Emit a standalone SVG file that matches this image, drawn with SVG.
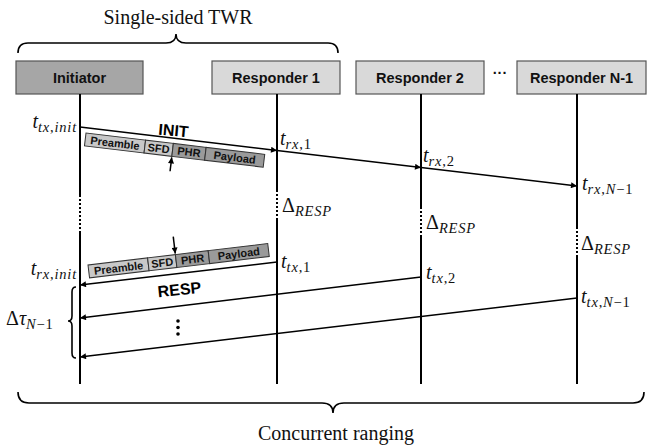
<svg xmlns="http://www.w3.org/2000/svg" width="651" height="445" viewBox="0 0 651 445">
<style>
.box{stroke:#555;stroke-width:1.2}
.init{fill:#a6a6a6}
.resp{fill:#d9d9d9}
.nlab{font-family:"Liberation Sans",Arial,sans-serif;font-weight:bold;font-size:14.5px;fill:#111;text-anchor:middle}
.life{stroke:#000;stroke-width:2;fill:none}
.dot{stroke:#000;stroke-width:2;stroke-dasharray:2,2;fill:none}
.msg{stroke:#000;stroke-width:1.5;fill:none}
.brace{stroke:#000;stroke-width:1.6;fill:none}
.m{font-family:"Liberation Serif","Times New Roman",serif;font-style:italic;font-size:20px;fill:#111}
.s{font-size:14.5px;letter-spacing:0.8px}
.up{font-style:normal}
.cap{font-family:"Liberation Serif","Times New Roman",serif;font-size:20px;fill:#111;text-anchor:middle}
.pk{font-family:"Liberation Sans",Arial,sans-serif;font-weight:bold;font-size:11px;fill:#111;text-anchor:middle}
.lt{fill:#c8c8c8;stroke:#333;stroke-width:1}
.dk{fill:#9a9a9a;stroke:#333;stroke-width:1}
.big{font-family:"Liberation Sans",Arial,sans-serif;font-weight:bold;font-size:16px;fill:#000;text-anchor:middle}
</style>
<defs>
<marker id="ah" viewBox="0 0 10 10" refX="10" refY="5" markerWidth="8" markerHeight="6" markerUnits="userSpaceOnUse" orient="auto">
<path d="M0,0 L10,5 L0,10 z" fill="#000"/>
</marker>
</defs>

<text class="cap" x="178" y="24">Single-sided TWR</text>
<path class="brace" d="M18,53 Q18,43 28,43 L166,43 Q176,43 176,34 Q176,43 186,43 L328,43 Q338,43 338,53"/>

<g id="initiator">
<rect class="box init" x="16" y="61" width="127" height="33"/>
<text class="nlab" x="79.5" y="83">Initiator</text>
<path class="life" d="M80,94 V195 M80,232 V384"/>
<path class="dot" d="M80,195 V232"/>
</g>
<g id="responder1">
<rect class="box resp" x="212" y="61" width="128" height="33"/>
<text class="nlab" x="276" y="83">Responder  1</text>
<path class="life" d="M277,94 V190 M277,220 V384"/>
<path class="dot" d="M277,190 V220"/>
</g>
<g id="responder2">
<rect class="box resp" x="356" y="61" width="128" height="33"/>
<text class="nlab" x="420" y="83">Responder  2</text>
<path class="life" d="M421,94 V207 M421,237 V384"/>
<path class="dot" d="M421,207 V237"/>
</g>
<text class="nlab" x="500" y="78">···</text>
<g id="responderN1">
<rect class="box resp" x="517" y="61" width="129" height="33"/>
<text class="nlab" x="581.5" y="83">Responder  N-1</text>
<path class="life" d="M577,94 V227 M577,257 V384"/>
<path class="dot" d="M577,227 V257"/>
</g>

<g id="connectors">
<path class="msg" d="M80,127 L277,150.4" marker-end="url(#ah)"/>
<path class="msg" d="M277,150.4 L421,167.5" marker-end="url(#ah)"/>
<path class="msg" d="M421,167.5 L577,186" marker-end="url(#ah)"/>
<path class="msg" d="M277,262 L80,285" marker-end="url(#ah)"/>
<path class="msg" d="M421,277 L80,318" marker-end="url(#ah)"/>
<path class="msg" d="M577,298 L80,357" marker-end="url(#ah)"/>
</g>

<g id="init-packet" transform="translate(86,133) rotate(6.8)">
<rect class="lt" x="0" y="0" width="60" height="13"/>
<rect class="lt" x="60" y="0" width="28" height="13"/>
<rect class="dk" x="88" y="0" width="33" height="13"/>
<rect class="dk" x="121" y="0" width="59" height="13"/>
<text class="pk" x="30" y="10.5">Preamble</text>
<text class="pk" x="74" y="10.5">SFD</text>
<text class="pk" x="104.5" y="10.5">PHR</text>
<text class="pk" x="150.5" y="10.5">Payload</text>
<path d="M88,28 L88,14" stroke="#000" stroke-width="1.5" marker-end="url(#ah)"/>
</g>
<text class="big" x="173" y="136" transform="rotate(5 173 136)">INIT</text>

<g id="resp-packet" transform="translate(88,265) rotate(-6.8)">
<rect class="lt" x="0" y="0" width="60" height="13"/>
<rect class="lt" x="60" y="0" width="28" height="13"/>
<rect class="dk" x="88" y="0" width="33" height="13"/>
<rect class="dk" x="121" y="0" width="60" height="13"/>
<text class="pk" x="30" y="10.5">Preamble</text>
<text class="pk" x="74" y="10.5">SFD</text>
<text class="pk" x="104.5" y="10.5">PHR</text>
<text class="pk" x="151" y="10.5">Payload</text>
<path d="M88,-18 L88,-1" stroke="#000" stroke-width="1.5" marker-end="url(#ah)"/>
</g>
<text class="big" x="180" y="295" transform="rotate(-6 180 295)">RESP</text>

<g id="vdots" fill="#000">
<circle cx="178" cy="321" r="1.8"/>
<circle cx="178" cy="327.5" r="1.8"/>
<circle cx="178" cy="334" r="1.8"/>
</g>

<path class="brace" d="M76,287 Q72,287 72,292 L72,316 Q72,321 68,321 Q72,321 72,326 L72,353 Q72,358 76,358"/>

<text class="m" x="77" y="128" text-anchor="end">t<tspan class="s" dy="4">tx</tspan><tspan class="s up">,</tspan><tspan class="s">init</tspan></text>
<text class="m" x="280" y="145">t<tspan class="s" dy="4">rx</tspan><tspan class="s up">,1</tspan></text>
<text class="m" x="423" y="162">t<tspan class="s" dy="4">rx</tspan><tspan class="s up">,2</tspan></text>
<text class="m" x="582" y="190">t<tspan class="s" dy="4">rx</tspan><tspan class="s up">,</tspan><tspan class="s">N</tspan><tspan class="s up">−1</tspan></text>

<text class="m" x="282" y="212"><tspan class="up">Δ</tspan><tspan class="s" dy="4">RESP</tspan></text>
<text class="m" x="426" y="229"><tspan class="up">Δ</tspan><tspan class="s" dy="4">RESP</tspan></text>
<text class="m" x="581" y="250"><tspan class="up">Δ</tspan><tspan class="s" dy="4">RESP</tspan></text>

<text class="m" x="281" y="268">t<tspan class="s" dy="4">tx</tspan><tspan class="s up">,1</tspan></text>
<text class="m" x="77" y="275" text-anchor="end">t<tspan class="s" dy="4">rx</tspan><tspan class="s up">,</tspan><tspan class="s">init</tspan></text>
<text class="m" x="426" y="279">t<tspan class="s" dy="4">tx</tspan><tspan class="s up">,2</tspan></text>
<text class="m" x="581" y="303">t<tspan class="s" dy="4">tx</tspan><tspan class="s up">,</tspan><tspan class="s">N</tspan><tspan class="s up">−1</tspan></text>
<text class="m" x="6" y="325"><tspan class="up">Δ</tspan>τ<tspan class="s" dy="4">N</tspan><tspan class="s up">−1</tspan></text>

<path class="brace" d="M18,392 Q18,403 29,403 L322,403 Q333,403 333,413 Q333,403 344,403 L633,403 Q644,403 644,392"/>
<text class="cap" x="336" y="440">Concurrent ranging</text>
</svg>
